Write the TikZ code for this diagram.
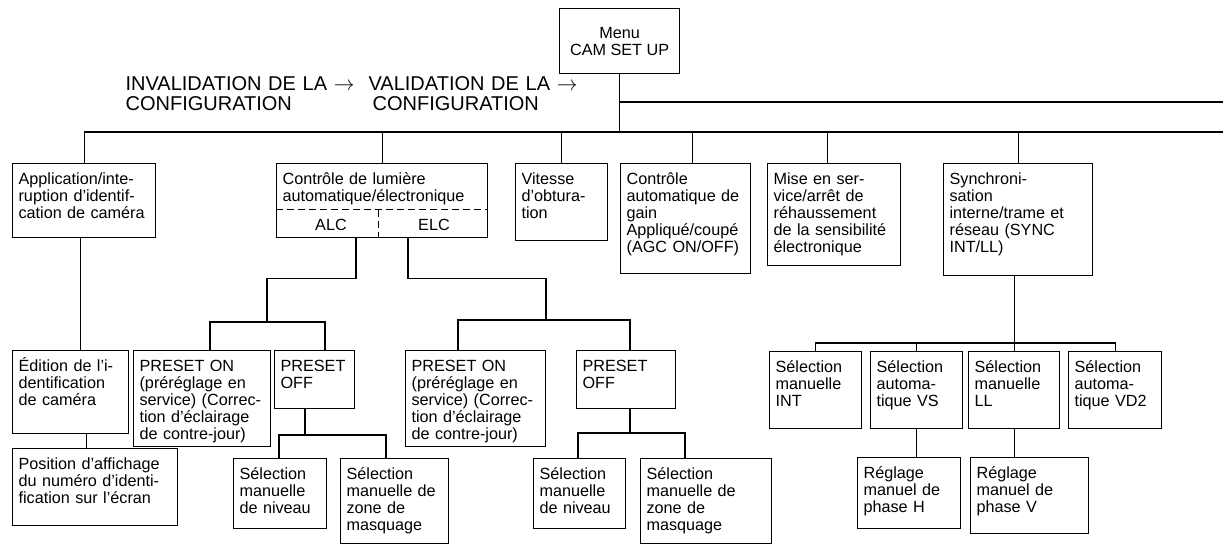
\documentclass[tikz,border=0pt]{standalone}
\usepackage{fontspec}
\setmainfont{Liberation Sans}
\newcommand\boxfont{\fontsize{16.2pt}{17pt}\selectfont}
\newcommand\headfont{\fontsize{20pt}{20pt}\selectfont}
\begin{document}
\begin{tikzpicture}[
  x=1pt, y=-1pt,
  line width=1.2pt,
  box/.style     = {draw, anchor=north west, align=left, inner xsep=6pt,
                    inner ysep=0pt, text height=21pt, font=\boxfont},
  menubox/.style = {draw, anchor=north west, align=center, minimum width=120pt,
                    minimum height=65pt, inner sep=0pt, font=\boxfont},
  head/.style    = {anchor=base west, align=left, inner sep=0pt, font=\headfont},
  lbl/.style     = {inner sep=0pt, font=\boxfont},
  cut/.style     = {dash pattern=on 7pt off 4pt, line width=1pt},
]
  \useasboundingbox (0,0) rectangle (1223,545);

  \node[menubox] (menu) at (559,8) {Menu\\CAM SET UP};
  \node[head, text width=236pt] (inval) at (125,91) {INVALIDATION DE LA $\rightarrow$\\CONFIGURATION};
  \node[head, text width=215pt] (valid) at (368,91) {VALIDATION DE LA $\rightarrow$\\\hspace*{4pt}CONFIGURATION};

  \coordinate (busR) at (1223,132);
  \coordinate (topR) at (1223,102);

  \node[box, text width=131pt, text depth=53pt] (app)  at (12,163)  {Application/inte-\\ruption d'identif-\\cation de caméra};
  \node[box, text width=199pt, text depth=53pt] (ctrl) at (276,163) {Contrôle de lumière\\automatique/électronique};
  \node[box, text width=80pt,  text depth=56pt] (vit)  at (515,163) {Vitesse\\d'obtura-\\tion};
  \node[box, text width=118pt, text depth=89pt] (agc)  at (620,163) {Contrôle\\automatique de\\gain\\Appliqué/coupé\\(AGC ON/OFF)};
  \node[box, text width=121pt, text depth=81pt] (mise) at (767,163) {Mise en ser-\\vice/arrêt de\\réhaussement\\de la sensibilité\\électronique};
  \node[box, text width=137pt, text depth=91pt] (sync) at (943,163) {Synchroni-\\sation\\interne/trame et\\réseau (SYNC\\INT/LL)};

  \node[box, text width=104pt, text depth=62pt] (edit)  at (12,350)  {Édition de l'i-\\dentification\\de caméra};
  \node[box, text width=153pt, text depth=56pt] (pos)   at (12,448)  {Position d'affichage\\du numéro d'identi-\\fication sur l'écran};
  \node[box, text width=125pt, text depth=75pt] (pon1)  at (133,350) {PRESET ON\\(préréglage en\\service) (Correc-\\tion d'éclairage\\de contre-jour)};
  \node[box, text width=68pt,  text depth=37pt] (poff1) at (274,350) {PRESET\\OFF};
  \node[box, text width=81pt,  text depth=49pt] (niv1)  at (233,458) {Sélection\\manuelle\\de niveau};
  \node[box, text width=96pt,  text depth=64pt] (zone1) at (340,458) {Sélection\\manuelle de\\zone de\\masquage};
  \node[box, text width=128pt, text depth=75pt] (pon2)  at (405,350) {PRESET ON\\(préréglage en\\service) (Correc-\\tion d'éclairage\\de contre-jour)};
  \node[box, text width=87pt,  text depth=37pt] (poff2) at (576,350) {PRESET\\OFF};
  \node[box, text width=80pt,  text depth=49pt] (niv2)  at (533,458) {Sélection\\manuelle\\de niveau};
  \node[box, text width=119pt, text depth=64pt] (zone2) at (640,458) {Sélection\\manuelle de\\zone de\\masquage};

  \node[box, text width=80pt,  text depth=56pt] (int) at (769,351)  {Sélection\\manuelle\\INT};
  \node[box, text width=80pt,  text depth=56pt] (vs)  at (870,351)  {Sélection\\automa-\\tique VS};
  \node[box, text width=79pt,  text depth=56pt] (ll)  at (968,351)  {Sélection\\manuelle\\LL};
  \node[box, text width=81pt,  text depth=56pt] (vd2) at (1068,351) {Sélection\\automa-\\tique VD2};
  \node[box, text width=91pt,  text depth=50pt] (phh) at (857,457)  {Réglage\\manuel de\\phase H};
  \node[box, text width=106pt, text depth=55pt] (phv) at (970,457)  {Réglage\\manuel de\\phase V};

  \draw (menu.south) -- (menu.south |- busR);
  \draw (menu.south |- topR) -- (topR);
  \draw (app.north) |- (busR);
  \foreach \n in {ctrl, vit, sync}
    \draw (\n.north) -- (\n.north |- busR);
  \draw ([xshift=7pt]agc.north) -- ([xshift=7pt]agc.north |- busR);
  \draw ([xshift=-7pt]mise.north) -- ([xshift=-7pt]mise.north |- busR);

  \draw[cut] ([yshift=-47pt]ctrl.north west) -- ([yshift=-47pt]ctrl.north east);
  \draw[cut] ([xshift=102pt,yshift=-47pt]ctrl.north west) -- ([xshift=102pt]ctrl.south west);
  \node[lbl] (alc) at ([xshift=55pt,yshift=13pt]ctrl.south west) {ALC};
  \node[lbl] (elc) at ([xshift=158pt,yshift=13pt]ctrl.south west) {ELC};

  \draw ([xshift=-4pt]app.south) -- ([xshift=-4pt]app.south |- edit.north);
  \draw ([xshift=16pt]edit.south) -- ([xshift=16pt]edit.south |- pos.north);

  \coordinate (alcbus) at (267,322);
  \draw ([xshift=80pt]ctrl.south west) -- ++(0,40) -| (alcbus);
  \draw ([xshift=77pt]pon1.north west) |- (alcbus) -| ([xshift=51pt]poff1.north west);
  \coordinate (p1bus) at (305,435);
  \draw ([xshift=31pt]poff1.south west) -- (p1bus);
  \draw ([xshift=46pt]niv1.north west) |- (p1bus) -| ([xshift=46pt]zone1.north west);

  \coordinate (elcbus) at (546,320);
  \draw ([xshift=132pt]ctrl.south west) -- ++(0,40) -| (elcbus);
  \draw ([xshift=53pt]pon2.north west) |- (elcbus) -| ([xshift=54pt]poff2.north west);
  \coordinate (p2bus) at (630,433);
  \draw ([xshift=54pt]poff2.south west) -- (p2bus);
  \draw ([xshift=45pt]niv2.north west) |- (p2bus) -| ([xshift=45pt]zone2.north west);

  \coordinate (syncbus) at (1013,343);
  \draw (sync.south -| ll.north) -- (ll.north);
  \draw (int.north) |- (syncbus) -| (vd2.north);
  \draw (vs.north) -- (vs.north |- syncbus);
  \draw (vs.south) -- (vs.south |- phh.north);
  \draw (ll.south) -- (ll.south |- phv.north);
\end{tikzpicture}
\end{document}
